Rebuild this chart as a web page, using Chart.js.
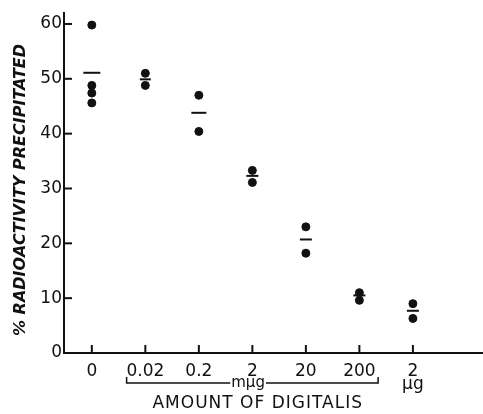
<!DOCTYPE html>
<html>
<head>
<meta charset="utf-8">
<script src="https://cdn.jsdelivr.net/npm/chart.js@4"></script>
<style>
  html, body { margin: 0; padding: 0; background: #fff; }
  #wrap { width: 483px; height: 414px; position: relative; }
</style>
</head>
<body>
<div id="wrap"><canvas id="digitalisChart"></canvas></div>
<script>
// Dose groups on the x axis (first six are in mµg, the last one in µg)
const doseLabels = ['0', '0.02', '0.2', '2', '20', '200', '2'];

// Individual determinations, % radioactivity precipitated
const dose0 = [59.8, 48.8, 47.4, 45.6];
const dose002 = [51.0, 48.8];
const dose02 = [47.0, 40.4];
const dose2 = [33.3, 31.1];
const dose20 = [23.0, 18.2];
const dose200 = [11.0, 9.6];
const dose2ug = [9.0, 6.3];

// Mean of each group (short horizontal bars)
const groupMeans = [51.1, 49.9, 43.8, 32.3, 20.7, 10.5, 7.7];

const yTickValues = [0, 10, 20, 30, 40, 50, 60];
const xTickValues = [0, 1, 2, 3, 4, 5, 6];

const groups = [dose0, dose002, dose02, dose2, dose20, dose200, dose2ug];
const pointData = [];
groups.forEach((vals, i) => {
    vals.forEach(v => pointData.push({ x: i, y: v }));
});
const meanData = groupMeans.map((v, i) => ({ x: i, y: v }));

const FONT = "'DejaVu Sans', 'Liberation Sans', sans-serif";
const INK = '#111';

// Inner tick marks, the unit bracket and the axis titles
const figureExtras = {
    id: 'figureExtras',
    afterDraw(chart) {
        const ctx = chart.ctx;
        const xs = chart.scales.x;
        const ys = chart.scales.y;
        const area = chart.chartArea;
        ctx.save();
        ctx.strokeStyle = INK;
        ctx.fillStyle = INK;
        ctx.lineWidth = 2;

        // x ticks point up into the plot
        xTickValues.forEach(v => {
            const px = xs.getPixelForValue(v);
            ctx.beginPath();
            ctx.moveTo(px, area.bottom);
            ctx.lineTo(px, area.bottom - 8);
            ctx.stroke();
        });
        // y ticks point right into the plot
        yTickValues.forEach(v => {
            if (v === 0) return;
            const py = ys.getPixelForValue(v);
            ctx.beginPath();
            ctx.moveTo(area.left, py);
            ctx.lineTo(area.left + 8, py);
            ctx.stroke();
        });

        // bracket under 0.02 .. 200 with "mµg"
        const bx1 = xs.getPixelForValue(0.65);
        const bx2 = xs.getPixelForValue(5.35);
        const by = 383;
        const labelX = xs.getPixelForValue(2.92);
        ctx.font = '15px ' + FONT;
        ctx.textAlign = 'center';
        ctx.textBaseline = 'middle';
        const mw = ctx.measureText('mµg').width;
        ctx.lineWidth = 1.5;
        ctx.beginPath();
        ctx.moveTo(bx1, by - 6);
        ctx.lineTo(bx1, by);
        ctx.lineTo(labelX - mw / 2 - 1, by);
        ctx.moveTo(labelX + mw / 2 + 1, by);
        ctx.lineTo(bx2, by);
        ctx.lineTo(bx2, by - 6);
        ctx.stroke();
        ctx.fillText('mµg', labelX, by);
        ctx.font = '17px ' + FONT;
        ctx.fillText('µg', xs.getPixelForValue(6), by + 2);

        // x title
        ctx.font = '17px ' + FONT;
        ctx.letterSpacing = '1px';
        ctx.fillText('AMOUNT OF DIGITALIS', xs.getPixelForValue(3.1), 404);
        ctx.letterSpacing = '0px';

        // y title, rotated
        const yTitle = '% RADIOACTIVITY PRECIPITATED';
        ctx.font = 'italic bold 16px ' + FONT;
        const tw = ctx.measureText(yTitle).width;
        const sx = Math.min(1, 294 / tw);
        ctx.translate(21, 190);
        ctx.rotate(-Math.PI / 2);
        ctx.scale(sx, 1);
        ctx.fillText(yTitle, 0, 0);
        ctx.restore();
    }
};

new Chart(document.getElementById('digitalisChart'), {
    type: 'scatter',
    data: {
        datasets: [
            {
                label: 'Determinations',
                data: pointData,
                backgroundColor: INK,
                borderColor: INK,
                pointRadius: 4,
                pointHoverRadius: 4
            },
            {
                label: 'Mean',
                data: meanData,
                pointStyle: 'line',
                borderColor: INK,
                borderWidth: 2,
                pointRadius: [8.5, 5.5, 7.5, 6, 6, 6, 6],
                pointHoverRadius: [8.5, 5.5, 7.5, 6, 6, 6, 6]
            }
        ]
    },
    options: {
        responsive: true,
        maintainAspectRatio: false,
        animation: false,
        layout: { autoPadding: false, padding: { top: 13, right: 0, bottom: 0, left: 0 } },
        plugins: {
            legend: { display: false },
            tooltip: { enabled: false }
        },
        scales: {
            x: {
                type: 'linear',
                min: -0.52,
                max: 7.31,
                afterBuildTicks: scale => { scale.ticks = xTickValues.map(v => ({ value: v })); },
                afterFit: scale => {
                    scale.height = 61;
                    scale.paddingLeft = 0;
                    scale.paddingRight = 0;
                },
                grid: { display: false, drawTicks: false },
                border: { display: true, color: INK, width: 2 },
                ticks: {
                    padding: 8,
                    color: INK,
                    font: { family: FONT, size: 17 },
                    maxRotation: 0,
                    autoSkip: false,
                    callback: value => doseLabels[value]
                }
            },
            y: {
                min: 0,
                max: 62,
                afterBuildTicks: scale => { scale.ticks = yTickValues.map(v => ({ value: v })); },
                afterFit: scale => {
                    scale.width = 64;
                    scale.paddingTop = 0;
                    scale.paddingBottom = 0;
                },
                grid: { display: false, drawTicks: false },
                border: { display: true, color: INK, width: 2 },
                ticks: {
                    padding: 2,
                    color: INK,
                    font: { family: FONT, size: 17 }
                }
            }
        }
    },
    plugins: [figureExtras]
});
</script>
</body>
</html>
